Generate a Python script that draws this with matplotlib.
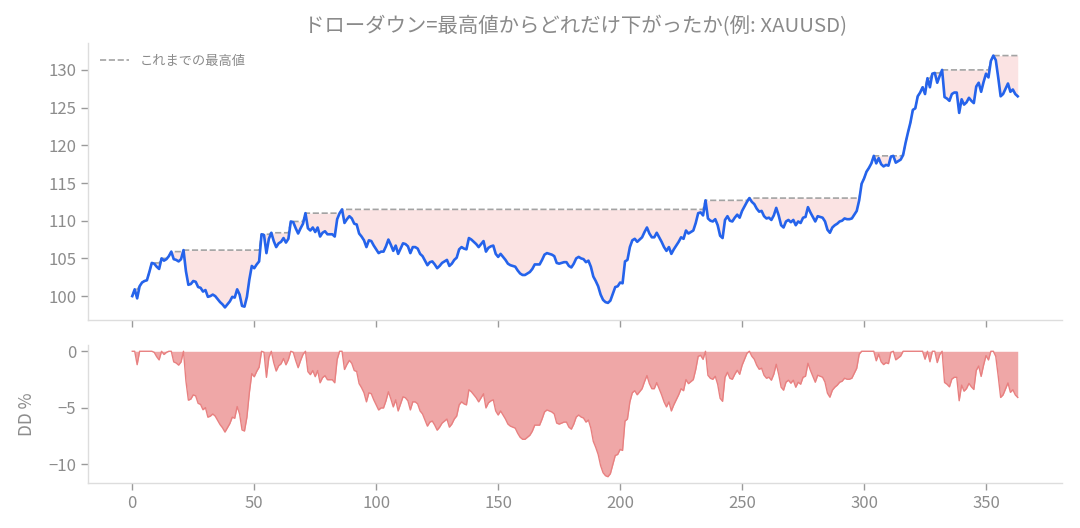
import numpy as np
import matplotlib
matplotlib.use("Agg")
import matplotlib.pyplot as plt

plt.rcParams['font.family'] = ['Noto Sans CJK JP', 'DejaVu Sans']

title = "ドローダウン=最高値からどれだけ下がったか(例: XAUUSD)"
legend_label = "これまでの最高値"
dd_label = "DD %"

price = [
    100.0, 100.9, 99.7, 101.3, 101.8, 102.0, 102.1, 103.2, 104.4, 104.3,
    103.9, 103.6, 105.0, 104.7, 104.9, 105.3, 105.9, 104.9, 104.8, 104.6,
    104.9, 106.1, 103.3, 101.5, 101.6, 102.0, 101.9, 101.2, 101.1, 100.6,
    100.8, 99.9, 100.0, 100.2, 100.0, 99.6, 99.2, 98.9, 98.5, 98.9,
    99.3, 99.9, 99.8, 100.9, 100.2, 98.7, 98.6, 99.9, 102.2, 104.0,
    103.7, 104.2, 104.6, 108.2, 108.1, 105.7, 107.6, 108.4, 107.3, 106.5,
    107.0, 107.2, 107.7, 107.1, 107.6, 109.9, 109.8, 109.0, 108.3, 109.0,
    109.6, 111.0, 109.0, 108.7, 109.1, 108.5, 109.1, 107.9, 108.4, 108.6,
    108.2, 108.2, 108.2, 107.9, 110.2, 111.0, 111.5, 109.7, 110.2, 110.6,
    110.3, 109.6, 109.5, 108.3, 107.9, 107.4, 106.5, 107.4, 107.3, 106.7,
    106.2, 105.7, 105.9, 105.9, 106.6, 107.5, 106.8, 106.0, 106.7, 105.6,
    106.3, 107.0, 106.9, 106.6, 105.7, 106.5, 106.5, 106.3, 105.6, 105.3,
    104.7, 104.1, 104.5, 104.6, 104.2, 103.7, 104.0, 104.4, 104.6, 104.8,
    104.0, 104.3, 104.8, 105.1, 106.2, 106.5, 106.3, 106.2, 107.7, 107.5,
    107.2, 106.9, 106.5, 106.9, 107.3, 105.9, 106.4, 106.6, 106.7, 105.6,
    105.2, 105.6, 105.2, 104.8, 104.3, 104.1, 104.0, 103.9, 103.4, 103.0,
    102.8, 102.8, 103.0, 103.2, 103.6, 104.2, 104.2, 104.2, 104.8, 105.5,
    105.7, 105.6, 105.5, 105.3, 104.4, 104.3, 104.4, 104.5, 104.5, 104.0,
    103.8, 104.3, 105.0, 105.2, 105.0, 104.9, 104.5, 104.7, 103.9, 102.6,
    102.0, 101.3, 100.2, 99.5, 99.2, 99.1, 99.4, 100.3, 101.2, 101.3,
    101.8, 101.7, 104.6, 104.8, 106.5, 107.4, 107.6, 107.2, 107.5, 107.8,
    108.5, 109.1, 108.3, 107.8, 107.8, 108.4, 107.8, 107.2, 106.5, 106.0,
    106.5, 105.6, 106.2, 106.7, 107.2, 107.8, 107.6, 108.7, 108.3, 108.5,
    108.7, 109.7, 111.0, 111.1, 110.7, 112.7, 110.3, 110.0, 109.9, 110.2,
    109.4, 108.0, 107.7, 110.1, 110.6, 110.0, 109.9, 110.4, 110.8, 110.4,
    111.3, 111.9, 112.5, 113.0, 112.5, 112.2, 111.6, 111.2, 111.3, 110.6,
    110.3, 110.4, 110.1, 110.7, 111.7, 110.7, 109.4, 109.1, 109.9, 110.1,
    109.8, 110.1, 109.4, 109.9, 109.7, 110.4, 110.5, 111.8, 111.1, 110.5,
    109.9, 110.6, 110.5, 110.4, 109.9, 108.8, 108.4, 109.1, 109.4, 109.6,
    109.9, 110.0, 110.3, 110.2, 110.2, 110.3, 110.8, 111.3, 112.7, 114.9,
    115.6, 116.5, 117.0, 117.6, 118.6, 117.6, 118.3, 117.5, 117.2, 117.4,
    117.3, 118.5, 118.6, 117.7, 117.9, 118.1, 118.7, 120.3, 121.7, 123.0,
    124.7, 124.9, 126.5, 127.0, 127.7, 126.8, 128.9, 127.7, 129.5, 129.6,
    128.3, 129.2, 130.0, 126.4, 126.2, 125.9, 126.8, 127.0, 127.0, 124.3,
    126.1, 125.4, 125.7, 126.3, 125.9, 125.6, 127.8, 128.3, 127.1, 128.4,
    129.5, 129.0, 131.2, 131.9, 131.3, 129.0, 126.5, 126.8, 127.5, 128.2,
    127.1, 127.4, 126.8, 126.5,
]

price = np.array(price)
x = np.arange(len(price))
runmax = np.maximum.accumulate(price)
dd = (price / runmax - 1.0) * 100.0

W, H = 1080, 528
fig = plt.figure(figsize=(W / 100, H / 100), dpi=100)
left = 88 / W
right = 1062 / W
ax1 = fig.add_axes([left, 1 - 320 / H, right - left, 277 / H])
ax2 = fig.add_axes([left, 1 - 483 / H, right - left, 138 / H], sharex=ax1)

spine_c = '#dddddd'
tick_c = '#8c8c8c'

ax1.fill_between(x, price, runmax, color='#fbe3e3', linewidth=0)
ax1.plot(x, runmax, color='#a3a3a3', linewidth=1.2, linestyle='--', label=legend_label)
ax1.plot(x, price, color='#2563eb', linewidth=1.9)
ax1.set_yticks([100, 105, 110, 115, 120, 125, 130])
ax1.set_title(title, fontsize=14.7, color='#8a8a8a', pad=8)
leg = ax1.legend(loc='upper left', frameon=False, fontsize=9.5, handlelength=2.2)
for t in leg.get_texts():
    t.set_color('#8a8a8a')
plt.setp(ax1.get_xticklabels(), visible=False)

ax2.fill_between(x, dd, 0, color='#efa7a7', linewidth=0)
ax2.plot(x, dd, color='#e88080', linewidth=1.0)
ax2.set_yticks([0, -5, -10])
ax2.set_xticks([0, 50, 100, 150, 200, 250, 300, 350])
ax2.set_ylabel(dd_label, fontsize=12.5, color='#8c8c8c', labelpad=9)

for ax in (ax1, ax2):
    for s in ('top', 'right'):
        ax.spines[s].set_visible(False)
    for s in ('left', 'bottom'):
        ax.spines[s].set_color(spine_c)
        ax.spines[s].set_linewidth(1.0)
    ax.tick_params(colors='#9a9a9a', labelcolor=tick_c, labelsize=12, length=5, width=1)

fig.savefig('out.png', dpi=100)
